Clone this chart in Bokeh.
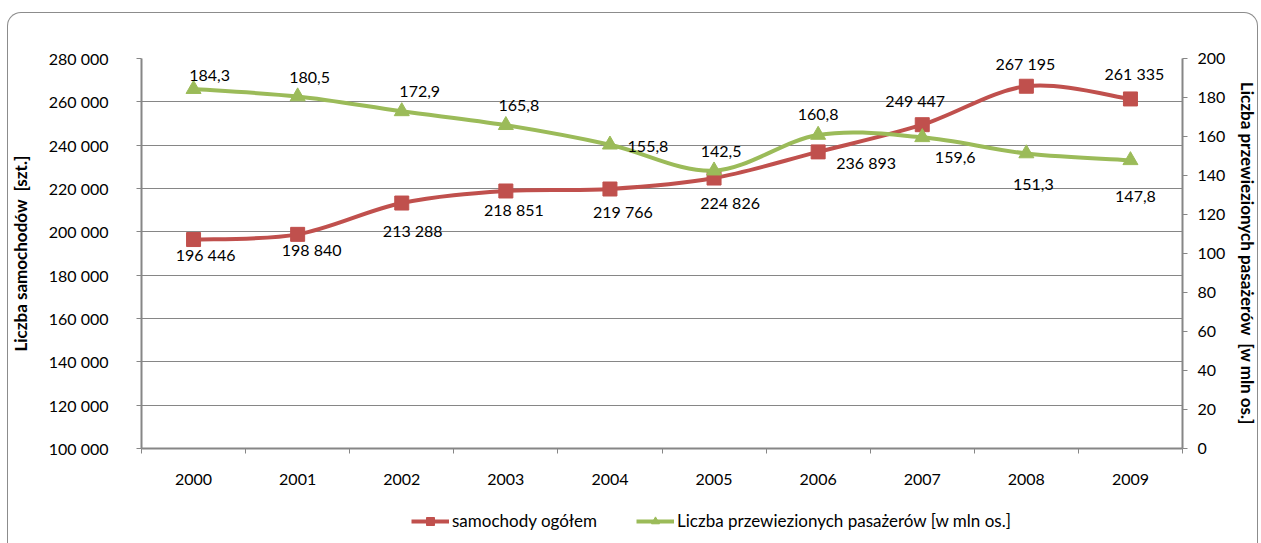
from bokeh.plotting import figure
from bokeh.layouts import column
from bokeh.models import (ColumnDataSource, Range1d, LinearAxis, FixedTicker,
                          Legend, LegendItem, InlineStyleSheet)
from bokeh.core.properties import value
from bokeh.embed import file_html
from bokeh.resources import INLINE

# ---- data ----
years = ["2000", "2001", "2002", "2003", "2004", "2005", "2006", "2007", "2008", "2009"]
cars_total = [196446, 198840, 213288, 218851, 219766, 224826, 236893, 249447, 267195, 261335]
passengers_mln = [184.3, 180.5, 172.9, 165.8, 155.8, 142.5, 160.8, 159.6, 151.3, 147.8]

left_ticks = [100000, 120000, 140000, 160000, 180000, 200000, 220000, 240000, 260000, 280000]
left_tick_labels = ["100 000", "120 000", "140 000", "160 000", "180 000",
                    "200 000", "220 000", "240 000", "260 000", "280 000"]
right_ticks = [0, 20, 40, 60, 80, 100, 120, 140, 160, 180, 200]

series_names = ["samochody ogółem", "Liczba przewiezionych pasażerów [w mln os.]"]

# label placement around each marker (pixels, y grows downward)
cars_label_dx = [12, 14, 11, 8, 13, 16, 48, -7, -1, 4]
cars_label_dy = [15, 15, 27, 19, 22, 24, 11, -24, -23, -25]
pas_label_dx = [16, 12, 18, 13, 38, 7, 0, 33, 7, 5]
pas_label_dy = [-14, -19, -20, -20, 2, -19, -20, 20, 31, 36]

RED = "#C0504D"
GREEN = "#9BBB59"
AXIS = "#868686"
FONT = "Lato"
W = 1261

xs = list(range(len(years)))


def smooth_segments(x, y):
    """Cubic Bezier segments of a Catmull-Rom style smoothed line."""
    n = len(x)
    seg = dict(x0=[], y0=[], x1=[], y1=[], cx0=[], cy0=[], cx1=[], cy1=[])
    for i in range(n - 1):
        xp, yp = (x[i - 1], y[i - 1]) if i > 0 else (x[i], y[i])
        xn, yn = (x[i + 2], y[i + 2]) if i + 2 < n else (x[i + 1], y[i + 1])
        seg["x0"].append(x[i]); seg["y0"].append(y[i])
        seg["x1"].append(x[i + 1]); seg["y1"].append(y[i + 1])
        seg["cx0"].append(x[i] + (x[i + 1] - xp) / 6.0)
        seg["cy0"].append(y[i] + (y[i + 1] - yp) / 6.0)
        seg["cx1"].append(x[i + 1] - (xn - x[i]) / 6.0)
        seg["cy1"].append(y[i + 1] - (yn - y[i]) / 6.0)
    return seg


p = figure(width=W, height=500, output_backend="svg", toolbar_location=None,
           x_range=Range1d(-0.5, 9.5), y_range=Range1d(100000, 280000),
           min_border_left=141, min_border_right=79, min_border_top=58,
           min_border_bottom=52)
p.extra_y_ranges = {"pas": Range1d(0, 200)}
p.outline_line_color = None
p.background_fill_color = "white"
p.border_fill_color = "white"

# ---- axes ----
xaxis = p.xaxis[0]
xaxis.ticker = FixedTicker(ticks=xs, minor_ticks=[i - 0.5 for i in range(len(years) + 1)])
xaxis.major_label_overrides = {i: y for i, y in enumerate(years)}
xaxis.major_tick_line_color = None
xaxis.major_tick_out = 0
xaxis.major_tick_in = 0
xaxis.minor_tick_out = 5
xaxis.minor_tick_in = 0
xaxis.minor_tick_line_color = AXIS
xaxis.axis_line_color = AXIS
xaxis.axis_line_width = 2
xaxis.major_label_standoff = 20
xaxis.major_label_text_font = FONT
xaxis.major_label_text_font_size = "16px"
xaxis.major_label_text_color = "black"

yaxis = p.yaxis[0]
yaxis.ticker = FixedTicker(ticks=left_ticks)
yaxis.major_label_overrides = {t: s for t, s in zip(left_ticks, left_tick_labels)}
yaxis.minor_tick_line_color = None
yaxis.major_tick_out = 5
yaxis.major_tick_in = 0
yaxis.major_tick_line_color = AXIS
yaxis.axis_line_color = AXIS
yaxis.axis_line_width = 2
yaxis.major_label_standoff = 28
yaxis.major_label_text_font = FONT
yaxis.major_label_text_font_size = "16px"
yaxis.major_label_text_color = "black"
yaxis.axis_label = "Liczba samochodów \u00a0[szt.]"
yaxis.axis_label_text_font = FONT
yaxis.axis_label_text_font_style = "bold"
yaxis.axis_label_text_font_size = "17px"
yaxis.axis_label_text_color = "black"
yaxis.axis_label_standoff = 15

raxis = LinearAxis(y_range_name="pas", ticker=FixedTicker(ticks=right_ticks))
raxis.minor_tick_line_color = None
raxis.major_tick_out = 5
raxis.major_tick_in = 0
raxis.major_tick_line_color = AXIS
raxis.axis_line_color = AXIS
raxis.axis_line_width = 2
raxis.major_label_standoff = 10
raxis.major_label_text_font = FONT
raxis.major_label_text_font_size = "16px"
raxis.major_label_text_color = "black"
raxis.axis_label = "Liczba przewiezionych pasażerów \u00a0[w mln os.]"
raxis.axis_label_text_font = FONT
raxis.axis_label_text_font_style = "bold"
raxis.axis_label_text_font_size = "17px"
raxis.axis_label_text_color = "black"
raxis.axis_label_standoff = 9
p.add_layout(raxis, "right")

p.xgrid.visible = False
p.ygrid.ticker = FixedTicker(ticks=left_ticks)
p.ygrid.grid_line_color = AXIS
p.ygrid.grid_line_width = 1

# ---- series ----
cs = smooth_segments(xs, cars_total)
p.bezier(x0="x0", y0="y0", x1="x1", y1="y1", cx0="cx0", cy0="cy0",
         cx1="cx1", cy1="cy1", source=ColumnDataSource(cs),
         line_color=RED, line_width=4, line_cap="round")
p.scatter(xs, cars_total, marker="square", size=14, fill_color=RED, line_color=RED)

ps = smooth_segments(xs, passengers_mln)
p.bezier(x0="x0", y0="y0", x1="x1", y1="y1", cx0="cx0", cy0="cy0",
         cx1="cx1", cy1="cy1", source=ColumnDataSource(ps),
         line_color=GREEN, line_width=4, line_cap="round", y_range_name="pas")
p.scatter(xs, passengers_mln, marker="triangle", size=15,
          fill_color=GREEN, line_color=GREEN, y_range_name="pas")

# ---- data labels ----
cars_src = ColumnDataSource(dict(
    x=xs, y=cars_total,
    label=[f"{v:,}".replace(",", " ") for v in cars_total],
    dx=cars_label_dx, dy=cars_label_dy))
p.text(x="x", y="y", text="label", x_offset="dx", y_offset="dy", source=cars_src,
       text_align="center", text_baseline="middle", text_font=value(FONT),
       text_font_size="16px", text_color="black")

pas_src = ColumnDataSource(dict(
    x=xs, y=passengers_mln,
    label=[f"{v:.1f}".replace(".", ",") for v in passengers_mln],
    dx=pas_label_dx, dy=pas_label_dy))
p.text(x="x", y="y", text="label", x_offset="dx", y_offset="dy", source=pas_src,
       text_align="center", text_baseline="middle", text_font=value(FONT),
       text_font_size="16px", text_color="black", y_range_name="pas")

# ---- legend strip under the chart ----
lg = figure(width=W, height=43, output_backend="svg", toolbar_location=None,
            x_range=Range1d(0, 1), y_range=Range1d(0, 1),
            min_border_left=0, min_border_right=0, min_border_top=0,
            min_border_bottom=0)
lg.axis.visible = False
lg.grid.visible = False
lg.outline_line_color = None
lg.background_fill_color = "white"
lg.border_fill_color = "white"
# key renderers sit outside the strip's ranges; only their legend swatches show
key_cars_line = lg.line([-5, -4], [-5, -5], line_color=RED, line_width=4)
key_cars_pt = lg.scatter([-5], [-5], marker="square", size=11, fill_color=RED, line_color=RED)
key_pas_line = lg.line([-5, -4], [-5, -5], line_color=GREEN, line_width=4)
key_pas_pt = lg.scatter([-5], [-5], marker="triangle", size=12, fill_color=GREEN, line_color=GREEN)

legend = Legend(items=[
    LegendItem(label=series_names[0], renderers=[key_cars_line, key_cars_pt]),
    LegendItem(label=series_names[1], renderers=[key_pas_line, key_pas_pt]),
], orientation="horizontal", location=(270, 12))
legend.border_line_color = None
legend.background_fill_alpha = 0
legend.padding = 0
legend.margin = 0
legend.spacing = 39
legend.glyph_width = 38
legend.glyph_height = 20
legend.label_standoff = 3
legend.label_text_font = FONT
legend.label_text_font_size = "17px"
legend.label_text_color = "black"
lg.add_layout(legend, "center")

# rounded frame drawn around the whole chart area
frame_css = InlineStyleSheet(css="""
:host::after {
  content: "";
  position: absolute;
  left: 7px; top: 12px;
  width: 1251px; height: 531px;
  box-sizing: border-box;
  border: 1px solid #8C8C8C;
  border-bottom: none;
  border-radius: 14px 14px 0 0;
  pointer-events: none;
}
""")

page = column(p, lg, spacing=0, stylesheets=[frame_css])

open("out.html", "w").write(file_html(page, INLINE))
